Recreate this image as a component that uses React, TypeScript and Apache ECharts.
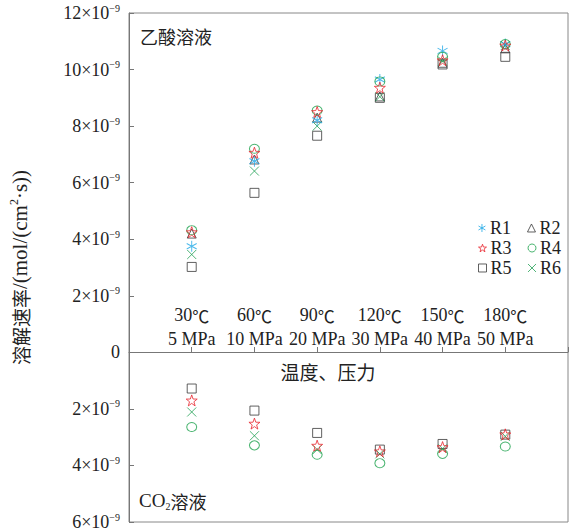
import React, { useEffect, useRef } from "react";
import * as echarts from "echarts";

// Category positions on the x axis and their tick labels
const positions = [1, 2, 3, 4, 5, 6];
const temps = ["30", "60", "90", "120", "150", "180"];
const pressures = ["5 MPa", "10 MPa", "20 MPa", "30 MPa", "40 MPa", "50 MPa"];

// Dissolution rate in acetic acid solution (×10^-9 mol/(cm²·s))
const aceticR1 = [3.75, 6.76, 8.21, 9.65, 10.66, 10.9];
const aceticR2 = [4.2, 6.82, 8.3, 9.05, 10.24, 10.75];
const aceticR3 = [4.25, 7.06, 8.5, 9.36, 10.33, 10.85];
const aceticR4 = [4.32, 7.2, 8.55, 9.58, 10.45, 10.9];
const aceticR5 = [3.02, 5.64, 7.66, 9.0, 10.18, 10.45];
const aceticR6 = [3.46, 6.41, 8.0, 9.04, 10.3, 10.85];

// Dissolution rate in CO2 solution (×10^-9), plotted downward
const co2R3 = [1.7, 2.52, 3.3, 3.5, 3.35, 2.9];
const co2R4 = [2.64, 3.29, 3.62, 3.92, 3.59, 3.33];
const co2R5 = [1.28, 2.06, 2.85, 3.44, 3.24, 2.91];
const co2R6 = [2.11, 2.95, 3.44, 3.59, 3.41, 2.97];

const SERIF = "Liberation Serif, Times New Roman, Noto Sans CJK SC, serif";
const CJK = "Noto Sans CJK SC, sans-serif";
const TXT = "#222";

const ASTERISK = "path://M0,-1L0,1M-0.866,-0.5L0.866,0.5M-0.866,0.5L0.866,-0.5";
const CROSS = "path://M-1,-1L1,1M-1,1L1,-1";
const STAR =
  "path://M0,-1L0.235,-0.324L0.951,-0.309L0.380,0.124L0.588,0.809L0,0.4L-0.588,0.809L-0.380,0.124L-0.951,-0.309L-0.235,-0.324Z";

const styles: Record<string, { symbol: string; size: number | number[]; color: string }> = {
  R1: { symbol: ASTERISK, size: [10, 11], color: "#1ea7e6" },
  R2: { symbol: "triangle", size: 9, color: "#3a3a3a" },
  R3: { symbol: STAR, size: 11, color: "#e8262e" },
  R4: { symbol: "circle", size: [10, 9], color: "#1fa34f" },
  R5: { symbol: "rect", size: 9, color: "#3a3a3a" },
  R6: { symbol: CROSS, size: 9, color: "#22a055" },
};

function mk(name: string, vals: number[], sign: number) {
  const s = styles[name];
  return {
    type: "scatter",
    name,
    symbol: s.symbol,
    symbolSize: s.size,
    data: vals.map((v, i) => [positions[i], sign * v]),
    itemStyle: { color: "rgba(0,0,0,0)", borderColor: s.color, borderWidth: 1 },
    emphasis: { disabled: true },
  };
}

function legendItem(name: string) {
  const s = styles[name];
  return {
    name,
    icon: s.symbol,
    itemStyle: { color: "rgba(0,0,0,0)", borderColor: s.color, borderWidth: 1 },
  };
}

export default function App() {
  const ref = useRef<HTMLDivElement>(null);
  useEffect(() => {
    if (!ref.current) return;
    const chart = echarts.init(ref.current, undefined, { renderer: "svg" });
    const legendCommon = {
      left: 478,
      orient: "horizontal",
      itemWidth: 8,
      itemHeight: 8,
      itemGap: 16,
      padding: 0,
      textStyle: { fontFamily: SERIF, fontSize: 18, color: TXT, padding: [0, 0, 0, -1] },
      selectedMode: false,
    };
    const richA = { fontFamily: SERIF, fontSize: 18, color: TXT, lineHeight: 20 };
    const richB = { fontFamily: SERIF, fontSize: 10, color: TXT, verticalAlign: "top", lineHeight: 20 };
    chart.setOption({
      animation: false,
      grid: {
        left: 123,
        top: 13,
        right: -6,
        bottom: 8,
        show: true,
        borderColor: "#888",
        borderWidth: 1,
        backgroundColor: "transparent",
      },
      xAxis: {
        type: "value",
        min: 0,
        max: 7,
        interval: 1,
        position: "bottom",
        offset: -170,
        axisLine: { onZero: false, lineStyle: { color: "#777", width: 1 } },
        axisTick: { inside: true, length: 5, lineStyle: { color: "#777" } },
        splitLine: { show: false },
        axisLabel: {
          inside: true,
          margin: 1,
          fontFamily: SERIF,
          fontSize: 18,
          lineHeight: 24,
          color: TXT,
          formatter: (v: number) => {
            const i = positions.indexOf(v);
            return i < 0 ? "" : `{a|${temps[i]}}{c|℃}\n{a|${pressures[i]}}`;
          },
          rich: {
            a: { fontFamily: SERIF, fontSize: 18, color: TXT, lineHeight: 24 },
            c: { fontFamily: CJK, fontSize: 17, color: TXT, lineHeight: 24 },
          },
        },
      },
      yAxis: {
        type: "value",
        min: -6,
        max: 12,
        interval: 2,
        name: "{k|溶解速率}{a|/(mol/(cm}{b|2}{a|·s))}",
        nameLocation: "middle",
        nameGap: 97,
        nameRotate: 90,
        nameTextStyle: {
          fontFamily: SERIF,
          fontSize: 21,
          color: TXT,
          rich: {
            k: { fontFamily: CJK, fontSize: 19, color: TXT, lineHeight: 24 },
            a: { fontFamily: SERIF, fontSize: 21, color: TXT, lineHeight: 24 },
            b: { fontFamily: SERIF, fontSize: 12, color: TXT, verticalAlign: "top", lineHeight: 24 },
          },
        },
        axisLine: { show: true, lineStyle: { color: "#777" } },
        axisTick: { inside: true, length: 5, lineStyle: { color: "#777" } },
        splitLine: { show: false },
        axisLabel: {
          margin: 9,
          fontFamily: SERIF,
          fontSize: 18,
          color: TXT,
          formatter: (v: number) => (v === 0 ? "{a|0}" : `{a|${Math.abs(v)}×10}{b|−9}`),
          rich: { a: richA, b: richB },
        },
      },
      legend: [
        { ...legendCommon, top: 219, data: [legendItem("R1"), legendItem("R2")] },
        { ...legendCommon, top: 239, data: [legendItem("R3"), legendItem("R4")] },
        { ...legendCommon, top: 259, data: [legendItem("R5"), legendItem("R6")] },
      ],
      graphic: [
        {
          type: "text",
          left: 140,
          top: 27,
          style: { text: "乙酸溶液", fontFamily: CJK, fontSize: 18, fill: TXT },
        },
        {
          type: "text",
          left: 139,
          top: 491,
          style: {
            text: "{a|CO}{b|2}{k|溶液}",
            fontFamily: SERIF,
            rich: {
              a: { fontFamily: SERIF, fontSize: 19, fill: TXT, lineHeight: 22 },
              b: { fontFamily: SERIF, fontSize: 10, fill: TXT, verticalAlign: "bottom", lineHeight: 22 },
              k: { fontFamily: CJK, fontSize: 18, fill: TXT, lineHeight: 22 },
            },
          },
        },
        {
          type: "text",
          x: 328,
          y: 371,
          style: {
            text: "温度、压力",
            fontFamily: CJK,
            fontSize: 19,
            fill: TXT,
            align: "center",
            verticalAlign: "middle",
          },
        },
      ],
      series: [
        mk("R5", aceticR5, 1),
        mk("R2", aceticR2, 1),
        mk("R6", aceticR6, 1),
        mk("R1", aceticR1, 1),
        mk("R4", aceticR4, 1),
        mk("R3", aceticR3, 1),
        mk("R5", co2R5, -1),
        mk("R6", co2R6, -1),
        mk("R4", co2R4, -1),
        mk("R3", co2R3, -1),
      ],
    });
    return () => chart.dispose();
  }, []);
  return (
    <div
      ref={ref}
      style={{ position: "fixed", left: 0, top: 0, width: 571, height: 531, background: "#fff" }}
    />
  );
}
